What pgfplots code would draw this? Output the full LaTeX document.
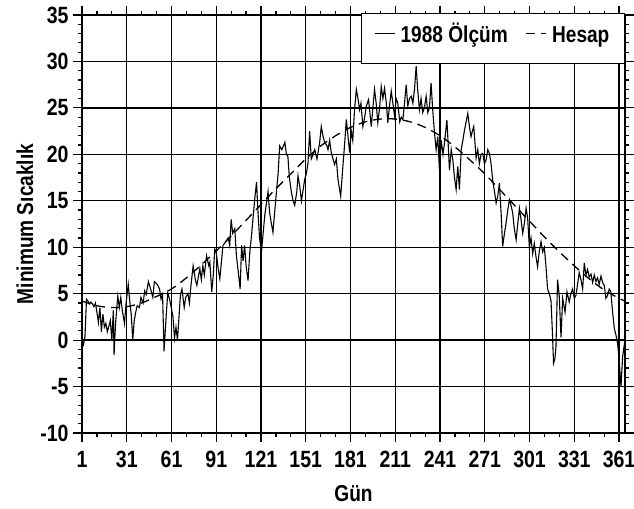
\documentclass[border=0pt]{standalone}
\usepackage{fontspec}
\setmainfont{Liberation Sans}[FakeStretch=0.83]
\usepackage{pgfplots}
\pgfplotsset{compat=1.18}

\begin{document}
\begin{tikzpicture}
\begin{axis}[
  scale only axis,
  width=543pt, height=418pt,
  xmin=1, xmax=365,
  ymin=-10, ymax=35,
  xtick={1,31,61,91,121,151,181,211,241,271,301,331,361},
  xticklabels={1,31,61,91,121,151,181,211,241,271,301,331,361},
  ytick={-10,-5,0,5,10,15,20,25,30,35},
  yticklabels={-10,-5,0,5,10,15,20,25,30,35},
  minor x tick num=2,
  minor y tick num=4,
  tick align=outside,
  major tick length=9pt,
  minor tick length=4pt,
  tick style={black, line width=1.2pt},
  grid=major,
  major grid style={black, line width=1.4pt},
  axis line style={line width=1.4pt},
  tick label style={font=\fontsize{23.5}{25}\selectfont\bfseries},
  xticklabel style={yshift=-6pt},
  yticklabel style={xshift=-1pt},
  xlabel={Gün},
  ylabel={Minimum Sıcaklık},
  label style={font=\fontsize{23}{25}\selectfont\bfseries},
  xlabel style={yshift=-10pt},
  ylabel style={yshift=0pt},
  legend columns=2,
  legend cell align=left,
  legend style={at={(rel axis cs:1,1)}, anchor=north east, yshift=2pt,
    draw=black, line width=1.2pt, fill=white,
    inner xsep=13pt, inner ysep=19pt,
    font=\fontsize{23}{25}\selectfont\bfseries,
    nodes={text height=0.75em, text depth=0.05em, yshift=-5pt},
    /tikz/every odd column/.append style={column sep=3pt},
    /tikz/every even column/.append style={column sep=16pt}},
  legend image code/.code={\draw[#1] (0pt,0pt) -- (20pt,0pt);},
]
% 1988 olcum (gunluk minimum sicaklik)
\addplot[black, line width=1.1pt] coordinates {
(1,0) (2,-0.5) (3,0.4) (4,4.4) (5,4.2) (6,3.9) (7,4.1) (8,3.9) (9,3.6) (10,4.0)
(11,3.0) (12,1.9) (13,3.5) (14,0.9) (15,2.8) (16,1.4) (17,1.8) (18,0.9) (19,1.5) (20,2.1)
(21,0.0) (22,3.2) (22.5,-1.6) (23.5,1.8) (25,4.75) (26,3.5) (27,4.6) (28,3.2) (29.5,1.8) (30.5,3.9)
(32,6.0) (33,4.2) (34,2.8) (35,0.0) (36,2.1) (37,3.0) (38,3.7) (39.5,3.5) (40.5,4.6) (42,4.0)
(43,5.3) (44,4.9) (45.5,6.3) (47,5.5) (48.5,4.6) (49.5,6.3) (51.5,6.0) (53,5.5) (54,4.4) (55,4.9)
(56,-1.2) (57.5,2.8) (58.5,5.1) (60,4.2) (62,2.5) (63,0.2) (64,1.4) (65,0.0) (67,4.9) (68,5.5)
(69.5,3.5) (70.5,4.6) (72,5.0) (73,4.0) (74,5.8) (75.5,8.0) (77,6.5) (78,5.9) (79,6.8) (80,7.7)
(81,6.5) (82,8.0) (83,7.0) (84.5,9.1) (86,8.0) (86.7,8.4) (88,5.2) (89,7.0) (90,9.8) (91,9.5)
(92,8.0) (93.4,6.6) (95.5,10.2) (97,10.5) (99,11.0) (100,10.2) (101,13.0) (102,11.5) (103.4,12.0) (104.5,9.1)
(106,7.0) (107,5.5) (108,10.2) (109,8.5) (110,10.2) (111,8.0) (112.3,6.4) (113.5,9.5) (114.6,11.2) (116.8,15.2)
(118,17.0) (119,13.7) (120,11.0) (121.3,9.5) (123.5,13.4) (125.7,16.0) (126.8,13.7) (128,12.5) (129,11.6) (130,13.5)
(131.3,15.9) (132.5,18.0) (133.5,20.9) (135,20.5) (137,21.3) (138,20.0) (139,19.8) (140,17.5) (141.4,15.9) (142.5,15.0)
(143.6,14.5) (145,16.0) (145.8,17.7) (147,16.5) (148.1,15.0) (150.3,17.3) (151.5,18.0) (152.5,19.1) (153.6,22.5) (154.7,19.5)
(156,20.0) (157,20.5) (158.5,19.5) (160.3,21.25) (161.4,23.0) (162.5,22.0) (163.7,21.25) (165,21.0) (165.9,20.5) (167,21.5)
(168.1,20.2) (170.3,18.9) (171.5,19.5) (172.6,17.3) (174.4,15.5) (175.9,18.75) (177,21.0) (178.2,23.75) (179.3,22.0) (180.4,20.2)
(181.5,22.5) (182.5,21.5) (183.7,24.8) (184.9,27.0) (186,26.0) (187.1,24.8) (188,25.5) (189.3,23.0) (190.5,24.0) (191.6,25.2)
(193.1,25.9) (194.9,23.0) (196,25.0) (197.1,27.0) (198.2,25.5) (199.3,23.4) (200.5,25.0) (201.6,27.3) (202.7,26.0) (203.8,27.1)
(205,25.5) (206,23.4) (207,25.0) (208.3,26.8) (209.4,25.5) (210.5,24.1) (211.6,26.0) (212.7,25.5) (214,23.5) (215,24.0)
(216.1,23.75) (217.2,25.5) (218.3,27.5) (219.4,25.2) (220.5,26.0) (221.7,26.25) (222.8,25.5) (223.9,27.0) (225,29.5) (226,27.0)
(227.2,24.8) (228.3,26.0) (229.4,24.5) (230.5,25.0) (231.7,26.25) (232.8,24.5) (233.9,25.0) (235,27.7) (236,25.0) (237.3,22.3)
(238.4,20.5) (239.5,21.9) (240.6,18.3) (241.8,21.5) (243,20.0) (244,21.2) (245.6,23.7) (246.5,21.0) (247.3,18.3) (248.5,20.5)
(249.6,19.4) (250.7,17.5) (251.8,16.2) (252.9,18.7) (254,16.2) (255.2,20.5) (256.3,21.5) (257.4,22.6) (258.5,23.5) (259.6,24.4)
(260.7,23.0) (261.8,21.9) (262.7,22.5) (263.6,23.0) (265.2,19.6) (266.3,20.5) (267.4,19.0) (268.5,20.0) (269.6,20.1) (270.8,19.0)
(271.9,19.4) (273,20.5) (274.1,20.1) (275.2,19.0) (276.3,17.25) (277.5,16.0) (278.6,14.75) (279.7,15.5) (280.8,16.9) (282,13.5)
(283,10.1) (284.2,11.5) (285.3,12.6) (286.4,14.0) (287.5,15.1) (288.6,14.5) (289.7,13.7) (290.8,12.0) (292,10.8) (293.1,12.5)
(294.2,14.2) (295.3,13.0) (296.4,11.5) (297.5,12.5) (298.7,14.2) (299.7,13.2) (300.9,10.0) (302,11.0) (303.1,9.3) (304.2,10.4)
(305.3,9.0) (306.4,7.9) (307.5,9.5) (308.7,10.6) (309.8,9.5) (310.9,10.0) (312,8.0) (313.1,5.5) (314.3,5.0) (315.4,4.2)
(316.3,1.0) (317.1,-2.5) (318,-2.0) (318.7,-0.8) (319.8,6.5) (320.9,4.8) (322.1,0.3) (323.2,4.5) (324.8,3.0) (326.1,5.2)
(327.6,4.1) (328.7,5.0) (329.9,5.5) (331,4.5) (332.1,4.8) (333.2,6.0) (334.3,7.25) (335.5,6.5) (336.6,5.5) (337.7,8.3)
(338.8,7.0) (339.9,7.6) (341,6.8) (342.2,7.1) (343.3,6.2) (344.4,7.0) (345.5,6.3) (346.6,6.7) (347.7,6.0) (348.9,6.9)
(350,6.2) (351.1,5.9) (352.2,4.5) (353.3,4.8) (354.4,5.5) (355.5,5.2) (356.7,3.0) (357.8,1.3) (359,0.5) (360.1,-0.4)
(361.2,-2.5) (362.3,-5.0) (363.4,-1.8) (364.5,-0.5)
};
\addlegendentry{1988 Ölçüm}
% hesaplanan degerler
\addplot[black, line width=1.3pt, dash pattern=on 9pt off 6pt, smooth] coordinates {
(1,4.2) (11,3.7) (21,3.5) (31,3.6) (41,4.0) (51,4.7) (61,5.5) (71,6.7) (81,8.1) (91,9.6)
(101,11.2) (111,12.9) (121,14.6) (131,16.3) (141,17.9) (151,19.5) (161,20.9) (171,22.0) (181,22.9) (191,23.5)
(201,23.8) (211,23.8) (221,23.5) (231,22.9) (241,22.0) (251,20.8) (261,19.4) (271,17.9) (281,16.2) (291,14.5)
(301,12.8) (311,11.1) (321,9.5) (331,8.0) (341,6.6) (351,5.4) (361,4.5) (365,4.2)
};
\addlegendentry{Hesap}
\end{axis}
\pgfresetboundingbox
\path ([shift={(-82pt,-76pt)}]current axis.south west) rectangle ([shift={(9pt,15pt)}]current axis.north east);
\end{tikzpicture}
\end{document}
